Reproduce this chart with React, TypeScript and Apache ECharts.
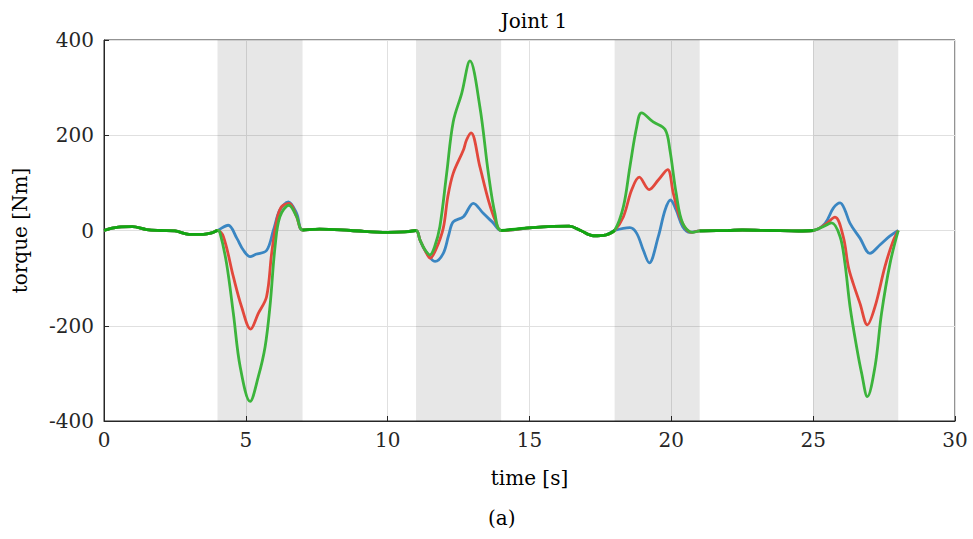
import { useEffect, useRef } from "react";
import * as echarts from "echarts";

// ---- data (time [s], torque [Nm]) ----
const xTicks = [0, 5, 10, 15, 20, 25, 30];
const yTicks = [-400, -200, 0, 200, 400];
const shadedIntervals = [
  [4, 7],
  [11, 14],
  [18, 21],
  [25, 28],
];

// common (overlapping) segments
const flat0 = [[0, 0], [0.5, 7], [1.0, 8], [1.5, 2], [2.0, 0], [2.5, -1], [3.0, -8], [3.5, -8], [3.8, -5], [4.0, 0]];
const flat1 = [[7, 1], [7.6, 3], [8.7, 0], [10, -4], [10.6, -3], [11, 0]];
const flat2 = [[14, 0], [15.1, 6], [16.4, 9], [16.8, 0], [17.25, -11], [17.7, -9], [18, 0]];
const flat3 = [[21, -1], [22, 0], [22.5, 1], [23.5, 0], [24.5, -1], [25, 0]];

// blue
const blue1 = [[4.38, 11], [4.68, -16], [4.91, -41], [5.15, -55], [5.35, -50], [5.73, -42], [5.97, 0], [6.2, 43], [6.5, 60], [6.79, 36]];
const blue2 = [[11.14, -20], [11.32, -42], [11.67, -65], [11.96, -48], [12.15, -10], [12.31, 18], [12.67, 29], [13.02, 57], [13.37, 36], [13.72, 16]];
const blue3 = [[18.54, 6], [18.78, -6], [19.01, -41], [19.22, -68], [19.54, -13], [19.78, 43], [19.97, 64], [20.17, 43], [20.4, 8], [20.66, -4]];
const blue4 = [[25.42, 15], [25.71, 47], [25.95, 58], [26.12, 43], [26.3, 15], [26.65, -16], [27.0, -48], [27.36, -30], [27.7, -12]];

// red
const red1 = [[4.21, -13], [4.56, -97], [4.85, -160], [5.17, -207], [5.44, -174], [5.73, -139], [5.91, -48], [6.09, 22], [6.26, 50], [6.53, 57], [6.79, 29]];
const red2 = [[11.14, -20], [11.32, -42], [11.5, -58], [11.7, -40], [11.96, 5], [12.12, 71], [12.31, 120], [12.67, 169], [12.78, 190], [12.94, 205], [13.25, 134], [13.55, 64], [13.8, 20]];
const red3 = [[18.31, 29], [18.6, 85], [18.87, 112], [19.22, 86], [19.54, 106], [19.87, 128], [20.07, 78], [20.36, 19], [20.7, -4]];
const red4 = [[25.42, 12], [25.77, 28], [26.06, -13], [26.24, -76], [26.41, -111], [26.65, -153], [26.91, -198], [27.18, -160], [27.53, -76], [27.8, -25]];

// green
const green1 = [[4.08, -3], [4.32, -69], [4.56, -174], [4.8, -286], [5.15, -359], [5.44, -307], [5.68, -244], [5.85, -160], [6.03, -34], [6.2, 29], [6.52, 53], [6.79, 29]];
const green2 = [[11.14, -20], [11.32, -41], [11.49, -51], [11.65, -35], [11.84, 8], [12.08, 120], [12.31, 228], [12.61, 288], [12.9, 356], [13.25, 260], [13.55, 120], [13.78, 36]];
const green3 = [[18.31, 50], [18.54, 134], [18.78, 218], [18.95, 247], [19.36, 228], [19.78, 212], [19.95, 169], [20.17, 78], [20.4, 15], [20.75, -4]];
const green4 = [[25.35, 8], [25.65, 16], [25.95, -13], [26.12, -69], [26.3, -160], [26.53, -244], [26.71, -300], [26.91, -349], [27.18, -286], [27.41, -174], [27.71, -69]];

const FONT = "DejaVu Serif";
const FS = 20;
const AXIS_COLOR = "#262626";

function full(a: number[][], b: number[][], c: number[][], d: number[][]) {
  return [...flat0, ...a, ...flat1, ...b, ...flat2, ...c, ...flat3, ...d, [28, 0]];
}

export default function App() {
  const ref = useRef<HTMLDivElement>(null);
  useEffect(() => {
    if (!ref.current) return;
    const chart = echarts.init(ref.current, undefined, { renderer: "svg" });
    const lineBase = (name: string, color: string, data: number[][], z: number) => ({
      name,
      type: "line",
      data,
      smooth: 0.35,
      showSymbol: false,
      symbol: "none",
      z,
      lineStyle: { color, width: 2.8 },
      itemStyle: { color },
    });
    const flats = [flat0, flat1, flat2, flat3];
    const blueSeries: any = lineBase("blue", "#3a86c2", full(blue1, blue2, blue3, blue4), 2);
    blueSeries.markArea = {
      silent: true,
      itemStyle: { color: "rgba(0,0,0,0.095)" },
      label: { show: false },
      data: shadedIntervals.map(([a, b]) => [{ xAxis: a }, { xAxis: b }]),
    };
    chart.setOption({
      animation: false,
      backgroundColor: "#ffffff",
      title: {
        text: "Joint 1",
        left: 529,
        top: 6,
        textAlign: "center",
        textStyle: { fontFamily: FONT, fontSize: FS, fontWeight: "normal", color: "#000" },
      },
      grid: {
        left: 104,
        right: 18,
        top: 40,
        bottom: 118,
        show: true,
        borderColor: AXIS_COLOR,
        borderWidth: 1,
        backgroundColor: "transparent",
      },
      xAxis: {
        type: "value",
        min: xTicks[0],
        max: xTicks[xTicks.length - 1],
        interval: 5,
        name: "time [s]",
        nameLocation: "middle",
        nameGap: 47,
        nameTextStyle: { fontFamily: FONT, fontSize: FS, color: "#000" },
        axisLine: { show: true, onZero: false, lineStyle: { color: AXIS_COLOR, width: 1 } },
        axisTick: { show: true, inside: true, length: 5, lineStyle: { color: AXIS_COLOR } },
        axisLabel: { fontFamily: FONT, fontSize: FS, color: AXIS_COLOR, margin: 9 },
        splitLine: { show: true, lineStyle: { color: "#e0e0e0", width: 1 } },
      },
      yAxis: {
        type: "value",
        min: yTicks[0],
        max: yTicks[yTicks.length - 1],
        interval: 200,
        name: "torque [Nm]",
        nameLocation: "middle",
        nameRotate: 90,
        nameGap: 74,
        nameTextStyle: { fontFamily: FONT, fontSize: FS, color: "#000" },
        axisLine: { show: true, onZero: false, lineStyle: { color: AXIS_COLOR, width: 1 } },
        axisTick: { show: true, inside: true, length: 5, lineStyle: { color: AXIS_COLOR } },
        axisLabel: { fontFamily: FONT, fontSize: FS, color: AXIS_COLOR, margin: 10 },
        splitLine: { show: true, lineStyle: { color: "#e0e0e0", width: 1 } },
      },
      graphic: [
        {
          type: "text",
          left: 488,
          top: 508,
          style: { text: "(a)", font: `${FS}px "${FONT}"`, fill: "#000" },
        },
      ],
      series: [
        blueSeries,
        lineBase("red", "#e2483c", full(red1, red2, red3, red4), 3),
        lineBase("green", "#3cb43c", full(green1, green2, green3, green4), 4),
        ...flats.map((f, i) => lineBase("common" + i, "#12a612", f, 5)),
      ],
    });
    return () => chart.dispose();
  }, []);
  return (
    <div
      ref={ref}
      style={{ position: "fixed", left: 0, top: 0, width: 973, height: 539, background: "#fff" }}
    />
  );
}
